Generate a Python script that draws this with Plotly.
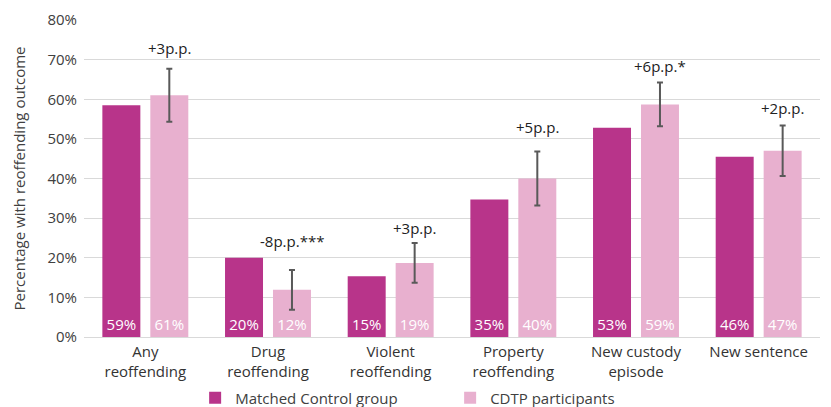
import plotly.graph_objects as go

categories = ["Any<br>reoffending", "Drug<br>reoffending", "Violent<br>reoffending",
              "Property<br>reoffending", "New custody<br>episode", "New sentence"]
control_values = [58.5, 20.0, 15.3, 34.7, 52.8, 45.5]
control_labels = ["59%", "20%", "15%", "35%", "53%", "46%"]
cdtp_values = [61.0, 11.9, 18.7, 40.0, 58.7, 47.0]
cdtp_labels = ["61%", "12%", "19%", "40%", "59%", "47%"]
cdtp_err = [6.7, 5.0, 5.0, 6.8, 5.5, 6.4]
diff_labels = ["+3p.p.", "-8p.p.***", "+3p.p.", "+5p.p.", "+6p.p.*", "+2p.p."]
y_ticks = [0, 10, 20, 30, 40, 50, 60, 70, 80]

font_family = "Open Sans"
magenta = "#B8348A"
pink = "#E8B0CF"
fs = 15
label_lift = [6, 14, 0, 10, 2, 2]

fig = go.Figure()
fig.add_trace(go.Bar(
    name="Matched Control group", x=categories, y=control_values,
    marker=dict(color=magenta, line=dict(width=0)),
    text=control_labels, textposition="inside", insidetextanchor="start",
    textfont=dict(color="white", size=fs, family=font_family),
    textangle=0,
))
fig.add_trace(go.Bar(
    name="CDTP participants", x=categories, y=cdtp_values,
    marker=dict(color=pink, line=dict(width=0)),
    text=cdtp_labels, textposition="inside", insidetextanchor="start",
    textfont=dict(color="white", size=fs, family=font_family),
    textangle=0,
    error_y=dict(type="data", array=cdtp_err, color="#595959", thickness=2, width=3),
))

for i, cat in enumerate(categories):
    fig.add_annotation(
        x=cat, y=cdtp_values[i] + cdtp_err[i], text=diff_labels[i],
        xref="x", yref="y", showarrow=False, yanchor="bottom", yshift=3 + label_lift[i],
        xshift=24, font=dict(size=fs, color="#222222", family=font_family),
    )

fig.update_layout(
    width=831, height=407,
    margin=dict(l=76, r=19, t=12, b=78),
    barmode="group", bargap=0.218, bargroupgap=0.208,
    plot_bgcolor="white", paper_bgcolor="white",
    font=dict(family=font_family, size=fs, color="#404040"),
    showlegend=True,
    legend=dict(orientation="h", x=0.151, xanchor="left", xref="paper",
                y=0.042, yanchor="middle", yref="container",
                font=dict(size=fs, color="#404040", family=font_family),
                entrywidth=210, entrywidthmode="pixels",
                traceorder="normal"),
)
fig.update_yaxes(
    range=[0, 80], tickvals=y_ticks, ticktext=[f"{v}%" for v in y_ticks],
    showgrid=True, gridcolor="#D9D9D9", gridwidth=1,
    zeroline=True, zerolinecolor="#D9D9D9", zerolinewidth=1,
    ticklabelstandoff=6, automargin=False,
    title=dict(text="Percentage with reoffending outcome", standoff=18,
               font=dict(size=fs, color="#404040", family=font_family)),
)
fig.update_xaxes(
    showgrid=False, showline=False, ticks="", automargin=False,
    ticklabelstandoff=4,
    tickfont=dict(size=fs, color="#333333", family=font_family),
)

fig.write_html("out.html")
